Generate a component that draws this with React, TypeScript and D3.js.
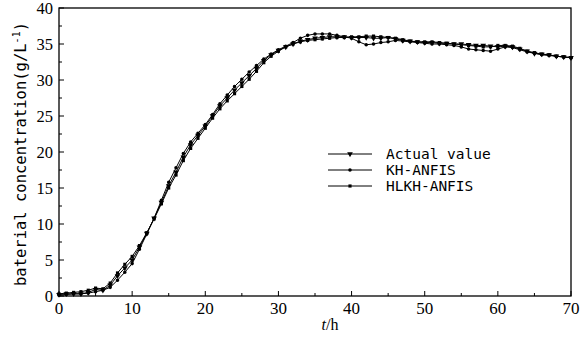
import React from 'react';
import * as d3 from 'd3';

// hourly samples, t = 0..70
const hours = d3.range(0, 71);

const actualValue = [0.2,0.3,0.3,0.3,0.5,0.9,0.8,1.5,2.8,3.9,
  5.0,6.8,8.7,10.8,13.0,15.3,17.2,19.3,21.0,22.3,
  23.6,25.0,26.4,27.5,28.6,29.6,30.6,31.6,32.7,33.5,
  34.1,34.6,35.0,35.4,35.6,35.8,35.9,36.0,36.0,36.0,
  35.9,35.9,35.9,35.8,35.8,35.9,35.7,35.5,35.4,35.3,
  35.2,35.2,35.1,35.1,35.0,35.0,34.9,34.8,34.8,34.7,
  34.6,34.7,34.6,34.3,34.0,33.7,33.6,33.5,33.3,33.2,33.1];

const khAnfis = [0.1,0.2,0.3,0.3,0.4,0.6,0.8,1.2,2.2,3.3,
  4.5,6.5,8.6,10.8,13.3,15.8,17.8,19.8,21.4,22.6,
  23.8,25.2,26.7,27.9,29.1,30.1,31.1,32.0,32.9,33.6,
  34.2,34.7,35.2,35.8,36.2,36.4,36.4,36.4,36.2,36.0,
  35.8,35.3,34.9,35.0,35.2,35.3,35.5,35.4,35.3,35.2,
  35.1,35.0,35.0,34.9,34.8,34.6,34.3,34.2,34.1,34.0,
  34.3,34.6,34.5,34.2,33.9,33.7,33.5,33.4,33.3,33.2,33.1];

const hlkhAnfis = [0.3,0.4,0.5,0.6,0.8,1.1,1.0,1.8,3.2,4.4,
  5.5,7.0,8.8,10.7,12.8,15.0,16.8,18.8,20.5,21.9,
  23.3,24.7,26.0,27.1,28.1,29.1,30.1,31.2,32.4,33.3,
  34.0,34.6,35.0,35.3,35.5,35.6,35.7,35.8,35.9,35.9,
  36.0,36.0,36.1,36.1,36.0,35.9,35.8,35.6,35.4,35.3,
  35.3,35.3,35.2,35.1,35.0,34.9,34.8,34.7,34.6,34.6,
  34.8,34.8,34.7,34.4,34.0,33.8,33.6,33.5,33.3,33.2,33.1];

const seriesNames = ['Actual value', 'KH-ANFIS', 'HLKH-ANFIS'];
const xTicks = [0, 10, 20, 30, 40, 50, 60, 70];
const yTicks = [0, 5, 10, 15, 20, 25, 30, 35, 40];

const W = 584, H = 340;
const left = 59, right = 571, top = 8, bottom = 296;

const serif = 'serif';
const mono = 'monospace';

export default function App() {
  const x = d3.scaleLinear().domain([0, 70]).range([left, right]);
  const y = d3.scaleLinear().domain([0, 40]).range([bottom, top]);
  const line = d3.line<number>().x((_, i) => x(hours[i])).y(v => y(v));

  const all = [actualValue, khAnfis, hlkhAnfis];
  const symbols = [d3.symbolTriangle, d3.symbolCircle, d3.symbolSquare];
  const sizes = [14, 10, 10];

  const marker = (k: number, cx: number, cy: number, key: any) => {
    const p = d3.symbol().type(symbols[k]).size(sizes[k])();
    const rot = k === 0 ? ' rotate(180)' : '';
    return <path key={key} d={p || ''} transform={`translate(${cx},${cy})${rot}`} fill="#000" />;
  };

  return (
    <svg width={W} height={H} style={{ position: 'absolute', left: 0, top: 0, background: '#fff' }}>
      {/* frame */}
      <rect x={left} y={top} width={right - left} height={bottom - top} fill="none" stroke="#000" strokeWidth={1.3} />

      {/* x ticks */}
      {d3.range(0, 71, 5).map(t => (
        <line key={'xt' + t} x1={x(t)} x2={x(t)} y1={bottom} y2={bottom - (t % 10 === 0 ? 5 : 3)} stroke="#000" />
      ))}
      {xTicks.map(t => (
        <text key={'xl' + t} x={x(t)} y={314} textAnchor="middle" fontFamily={serif} fontSize={17}>{t}</text>
      ))}

      {/* y ticks */}
      {d3.range(0, 40.1, 2.5).map(v => (
        <line key={'yt' + v} x1={left} x2={left + (v % 5 === 0 ? 5 : 3)} y1={y(v)} y2={y(v)} stroke="#000" />
      ))}
      {yTicks.map(v => (
        <text key={'yl' + v} x={53} y={y(v) + 5.5} textAnchor="end" fontFamily={serif} fontSize={16.5}>{v}</text>
      ))}

      {/* series */}
      {all.map((s, k) => (
        <g key={'s' + k}>
          <path d={line(s) || ''} fill="none" stroke="#000" strokeWidth={1} />
          {s.map((v, i) => marker(k, x(hours[i]), y(v), i))}
        </g>
      ))}

      {/* legend */}
      {seriesNames.map((n, k) => {
        const ly = 154 + k * 16;
        return (
          <g key={'lg' + k}>
            <line x1={328} x2={372} y1={ly} y2={ly} stroke="#000" />
            {marker(k, 350, ly, 'm')}
            <text x={386} y={ly + 5} fontFamily={mono} fontSize={14.5}>{n}</text>
          </g>
        );
      })}

      {/* axis titles */}
      <text x={330} y={330} textAnchor="middle" fontFamily={serif} fontSize={16}>
        <tspan fontStyle="italic">t</tspan>/h
      </text>
      <text transform={`translate(26,${(top + bottom) / 2 + 2}) rotate(-90)`} textAnchor="middle" fontFamily={mono} fontSize={15.5}>
        baterial concentration(g/L<tspan dy={-6} fontSize={10}>-1</tspan><tspan dy={6}>)</tspan>
      </text>
    </svg>
  );
}
